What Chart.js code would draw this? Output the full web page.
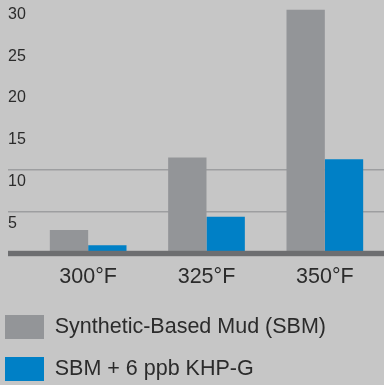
<!DOCTYPE html>
<html>
<head>
<meta charset="utf-8">
<script src="https://cdn.jsdelivr.net/npm/chart.js@4"></script>
<style>
  html, body { margin: 0; padding: 0; background: #c6c6c6; }
  #wrap { width: 384px; height: 385px; }
</style>
</head>
<body>
<div id="wrap"><canvas id="c"></canvas></div>
<script>
// Temperatures tested and measured values per fluid
const categories = ['300°F', '325°F', '350°F'];
const sbmValues = [2.8, 11.5, 29.2];
const khpValues = [1.0, 4.4, 11.3];
const seriesNames = ['Synthetic-Based Mud (SBM)', 'SBM + 6 ppb KHP-G'];
const yTicks = [0, 5, 10, 15, 20, 25, 30];
const gridValues = [5, 10];

const TEXT = '#2b2b2b';
const GRAY = '#939598';
const BLUE = '#0080c6';

// Page background, thick zero line and legend placement
const decor = {
  id: 'decor',
  beforeDraw(chart) {
    const { ctx, width, height } = chart;
    ctx.save();
    ctx.fillStyle = '#c6c6c6';
    ctx.fillRect(0, 0, width, height);
    ctx.restore();
  },
  afterLayout(chart) {
    const lg = chart.legend;
    if (lg) { lg.left -= 21; lg.right -= 21; }
  },
  afterDatasetsDraw(chart) {
    const { ctx, chartArea } = chart;
    const y = chart.scales.y;
    const py = y.getPixelForValue(0);
    ctx.save();
    ctx.fillStyle = '#6d6e70';
    ctx.fillRect(y.left, py - 2.7, chartArea.right - y.left, 5.4);
    ctx.restore();
  }
};

new Chart(document.getElementById('c'), {
  type: 'bar',
  data: {
    labels: categories,
    datasets: [
      { label: seriesNames[0], data: sbmValues, backgroundColor: GRAY, borderWidth: 0,
        categoryPercentage: 0.648, barPercentage: 1 },
      { label: seriesNames[1], data: khpValues, backgroundColor: BLUE, borderWidth: 0,
        categoryPercentage: 0.648, barPercentage: 1 }
    ]
  },
  options: {
    responsive: true,
    maintainAspectRatio: false,
    animation: false,
    devicePixelRatio: 1,
    layout: { padding: { left: 8, top: 3, right: 0, bottom: -6 } },
    plugins: {
      tooltip: { enabled: false },
      legend: {
        position: 'bottom',
        align: 'start',
        labels: {
          boxWidth: 39,
          boxHeight: 24,
          padding: 18,
          color: TEXT,
          font: { family: "'Liberation Sans', Arial, sans-serif", size: 21.5 }
        }
      }
    },
    scales: {
      x: {
        grid: { display: false, drawTicks: false },
        border: { display: false },
        ticks: {
          color: TEXT,
          padding: 11,
          font: { family: "'Liberation Sans', Arial, sans-serif", size: 21.5 }
        },
        afterFit(scale) { scale.height = 43.5; scale.paddingLeft = 0; scale.paddingRight = 0; }
      },
      y: {
        min: 0,
        max: 30,
        afterBuildTicks(scale) { scale.ticks = yTicks.map(v => ({ value: v })); },
        border: { display: false },
        grid: {
          tickLength: 21,
          lineWidth: 1.5,
          color: (c) => (c.tick && gridValues.includes(c.tick.value)) ? '#9d9ea0' : 'rgba(0,0,0,0)'
        },
        ticks: {
          color: TEXT,
          crossAlign: 'far',
          labelOffset: 11.5,
          callback: (v) => v === 0 ? '' : String(v),
          font: { family: "'Liberation Sans', Arial, sans-serif", size: 16 }
        },
        afterFit(scale) { scale.width = 21; scale.paddingTop = 0; scale.paddingBottom = 0; }
      }
    }
  },
  plugins: [decor]
});
</script>
</body>
</html>
